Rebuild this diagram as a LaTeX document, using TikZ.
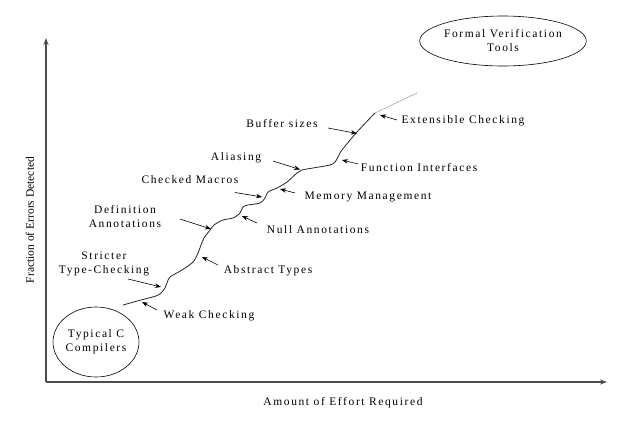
\documentclass[tikz,border=0pt]{standalone}
\usepackage{fontspec}
\setmainfont{Liberation Serif}
\newfontfamily\spacedfont[LetterSpace=14]{Liberation Serif}
\usetikzlibrary{arrows.meta,shapes.geometric}
\begin{document}
\begin{tikzpicture}[x=1pt,y=-1pt,
  lbl/.style={font=\spacedfont\fontsize{11.5}{14}\selectfont, align=center, inner sep=0pt},
  axlbl/.style={font=\fontsize{11.5}{14}\selectfont, inner sep=0pt},
  ann/.style={-{Stealth[length=6pt,width=4.5pt]}, line width=0.6pt},
  axis/.style={-{Stealth[length=7pt,width=5pt]}, line width=1.1pt, draw=black!70},
  curve/.style={line width=0.8pt, draw=black!85}]
\useasboundingbox (0,0) rectangle (640,426);
% axes
\coordinate (origin) at (46,382);
\coordinate (ytop) at (46,38);
\coordinate (xend) at (607,382);
\draw[axis] (origin) -- (ytop);
\draw[axis] (origin) -- (xend);
\node[axlbl, rotate=90] (ylab) at (30,220) {Fraction of Errors Detected};
\node[lbl] (xlab) at (343,403) {Amount of Effort Required};
% end nodes
\node[draw, ellipse, line width=0.6pt, minimum width=76pt, minimum height=70pt, inner sep=0pt, lbl] (cc) at (96,342) {Typical C\\Compilers};
\node[draw, ellipse, line width=0.6pt, minimum width=138pt, minimum height=50pt, inner sep=0pt, lbl] (fv) at (503,41) {Formal Verification\\Tools};
% curve
\draw[curve] plot[smooth, tension=0.5] coordinates {(123,305) (141,300) (156,296) (161,293) (165,288) (167,283) (170,277) (182,270) (193,262) (198,253) (201,245) (204,238) (210,230) (214,225) (223,220) (233,218) (240,213) (243,207) (248,205) (260,203) (265,198) (268,192) (277,188) (287,182) (297,173) (302,170) (313,168) (330,165) (335,162) (338,157) (342,150) (357,132) (375,113)};
\coordinate (cend) at (375,113);
\coordinate (cext) at (417,93);
\draw[line width=0.7pt, draw=black!35, dash pattern=on 2pt off 0.5pt] (cend) -- (cext);
% labels
\node[lbl] (weak) at (209,316) {Weak Checking};
\node[lbl] (strict) at (104,264) {Stricter\\Type-Checking};
\node[lbl] (defn) at (125,217) {Definition\\Annotations};
\node[lbl] (abst) at (268,271) {Abstract Types};
\node[lbl] (null) at (318,230) {Null Annotations};
\node[lbl] (macro) at (190,180) {Checked Macros};
\node[lbl] (mem) at (368,197) {Memory Management};
\node[lbl] (alias) at (236,158) {Aliasing};
\node[lbl] (func) at (419,168) {Function Interfaces};
\node[lbl] (buf) at (282,124) {Buffer sizes};
\node[lbl] (ext) at (463,121) {Extensible Checking};
% annotation arrows
\coordinate (weakT) at (157,310); \coordinate (weakH) at (142,302);
\coordinate (strictT) at (128,279); \coordinate (strictH) at (161,287);
\coordinate (defnT) at (180,219); \coordinate (defnH) at (211,229);
\coordinate (abstT) at (218,265); \coordinate (abstH) at (202,257);
\coordinate (nullT) at (257,223); \coordinate (nullH) at (242,216);
\coordinate (macroT) at (235,192.5); \coordinate (macroH) at (262,197);
\coordinate (memT) at (295,193); \coordinate (memH) at (280,189);
\coordinate (aliasT) at (273,161); \coordinate (aliasH) at (300,169.5);
\coordinate (funcT) at (358,164); \coordinate (funcH) at (342,160);
\coordinate (bufT) at (328,128); \coordinate (bufH) at (357,133.5);
\coordinate (extT) at (397,120); \coordinate (extH) at (380,115);
\foreach \n in {weak,strict,defn,abst,null,macro,mem,alias,func,buf,ext}
  \draw[ann] (\n T) -- (\n H);
\end{tikzpicture}
\end{document}
